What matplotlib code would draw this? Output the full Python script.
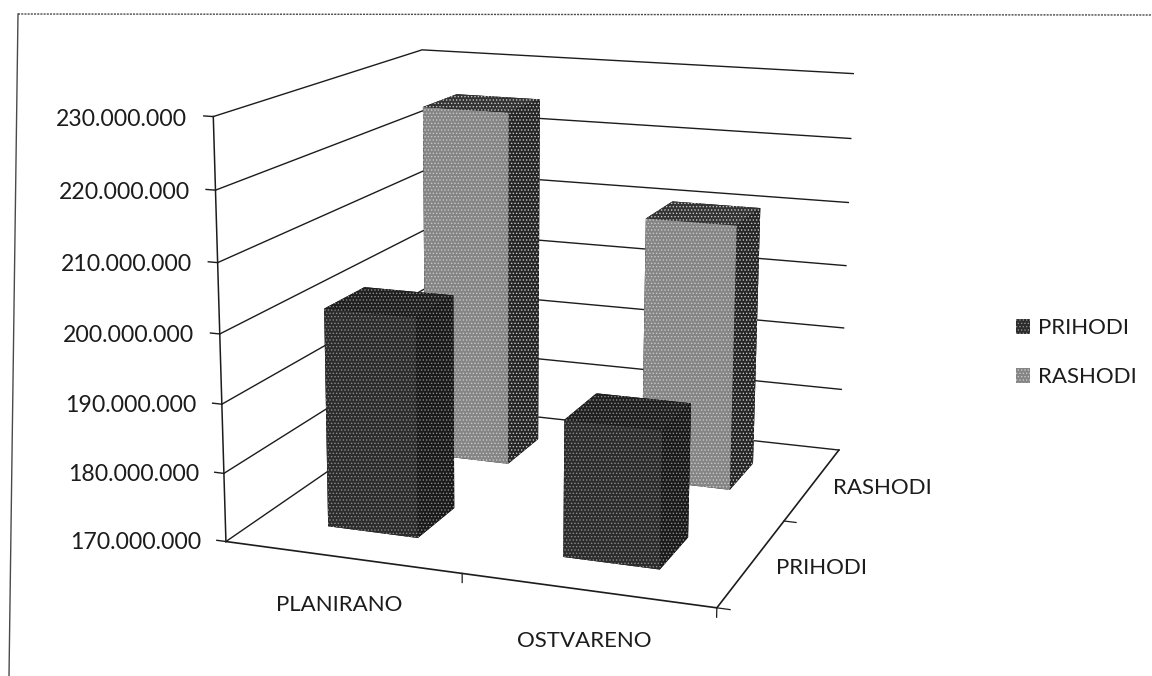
import numpy as np
import matplotlib
matplotlib.use("Agg")
from matplotlib import pyplot as plt
from matplotlib.lines import Line2D
from matplotlib.patches import Patch
from mpl_toolkits.mplot3d import proj3d

categories = ["PLANIRANO", "OSTVARENO"]
series = ["PRIHODI", "RASHODI"]
prihodi = [202.0e6, 189.7e6]
rashodi = [225.0e6, 210.5e6]
value_ticks = [170e6, 180e6, 190e6, 200e6, 210e6, 220e6, 230e6]
value_labels = ["170.000.000", "180.000.000", "190.000.000", "200.000.000", "210.000.000", "220.000.000", "230.000.000"]

W, H = 1152, 676
plt.rcParams["font.family"] = ["Lato", "DejaVu Sans"]
plt.rcParams["hatch.linewidth"] = 0.6
FS = 16.6
FS_CAPS = 16
INK = "#1c1c1c"

# axes box worked out so the 3d box lands on the picture's corners
scale = 4223.48
tx, ty = 552.95, 378.39
fig = plt.figure(figsize=(W / 100, H / 100), dpi=100)
side = scale * 0.185
ax = fig.add_axes([(tx - scale * 0.095) / W, (ty - scale * 0.095) / H, side / W, side / H],
                  projection="3d", computed_zorder=False)
ax.set_xlim(0, 2, view_margin=0)
ax.set_ylim(0, 2, view_margin=0)
ax.set_zlim(value_ticks[0], value_ticks[-1], view_margin=0)
ax.view_init(13.8631, -70.4892, -0.3733)
ax.set_proj_type("persp", focal_length=0.5388)
ax.set_box_aspect((1, 1.01, 0.8442))
ax.set_axis_off()

z0, z1 = value_ticks[0], value_ticks[-1]


def label(x, y, z, text, ha, size):
    # text sits at the projected point, so it stays a plain 2d text
    xp, yp, _ = proj3d.proj_transform(x, y, z, ax.get_proj())
    ax.text2D(xp, yp, text, transform=ax.transData, ha=ha, va="center", fontsize=size, color=INK)


# walls
for v in value_ticks:
    ax.plot([0, 0, 2], [0, 2, 2], [v, v, v], color=INK, lw=1.0, zorder=1)
    ax.plot([-0.04, 0], [0, 0], [v, v], color=INK, lw=1.0, zorder=1)
ax.plot([0, 0], [0, 0], [z0, z1], color=INK, lw=1.1, zorder=1)

# floor edges and their ticks
ax.plot([0, 2, 2], [0, 0, 2], [z0, z0, z0], color=INK, lw=1.2, zorder=1)
for x in range(1, 3):
    ax.plot([x, x], [0, 0], [z0, z0 - 1.3e6], color=INK, lw=0.9, zorder=1)
for y in range(2):
    ax.plot([2, 2.05], [y, y], [z0, z0], color=INK, lw=0.9, zorder=1)

# bars, back row first so the front row covers it
dark = {"front": "#2c2c2c", "top": "#1f1f1f", "side": "#1a1a1a", "dots": "#8c8c8c"}
light = {"front": "#858585", "top": "#333333", "side": "#262626", "dots": "#c8c8c8"}
order = 2
for row, values, look in ((1, rashodi, light), (0, prihodi, dark)):
    for cat, v in enumerate(values):
        faces = ["#000000", look["top"], look["front"], "#000000", "#000000", look["side"]]
        bar = ax.bar3d(cat + 0.3, row + 0.3, z0, 0.39, 0.38, v - z0, color=faces, shade=False, zorder=order)
        bar.set_edgecolor(look["dots"])
        bar.set_linewidth(0)
        bar.set_hatch(".....")
        order += 1

# texts
for v, text in zip(value_ticks, value_labels):
    label(-0.11, 0, v - 0.6e6, text, "right", FS)
label(0.699, -0.451, z0, categories[0], "center", FS_CAPS)
label(1.648, -0.458, z0, categories[1], "center", FS_CAPS)
label(2.265, 0.535, z0, series[0], "center", FS_CAPS)
label(2.29, 1.55, z0, series[1], "center", FS_CAPS)

handles = [Patch(facecolor=dark["front"], edgecolor=dark["dots"], lw=0, hatch="....."),
           Patch(facecolor=light["front"], edgecolor=light["dots"], lw=0, hatch=".....")]
fig.legend(handles, series, loc="center left", bbox_to_anchor=(1016 / W, 1 - 352.5 / H), frameon=False,
           fontsize=FS_CAPS, labelcolor=INK, handlelength=0.65, handleheight=0.65, handletextpad=0.33,
           labelspacing=1.3, borderpad=0, borderaxespad=0)

# scanned page frame
frame = dict(color="#4a4a4a", lw=1.0, transform=fig.transFigure)
fig.add_artist(Line2D([18 / W, 1], [1 - 14 / H, 1 - 15 / H], ls=(0, (1.5, 0.8)), **frame))
fig.add_artist(Line2D([18 / W, 9 / W], [1 - 14 / H, 0], **frame))

fig.savefig("out.png", dpi=100)
